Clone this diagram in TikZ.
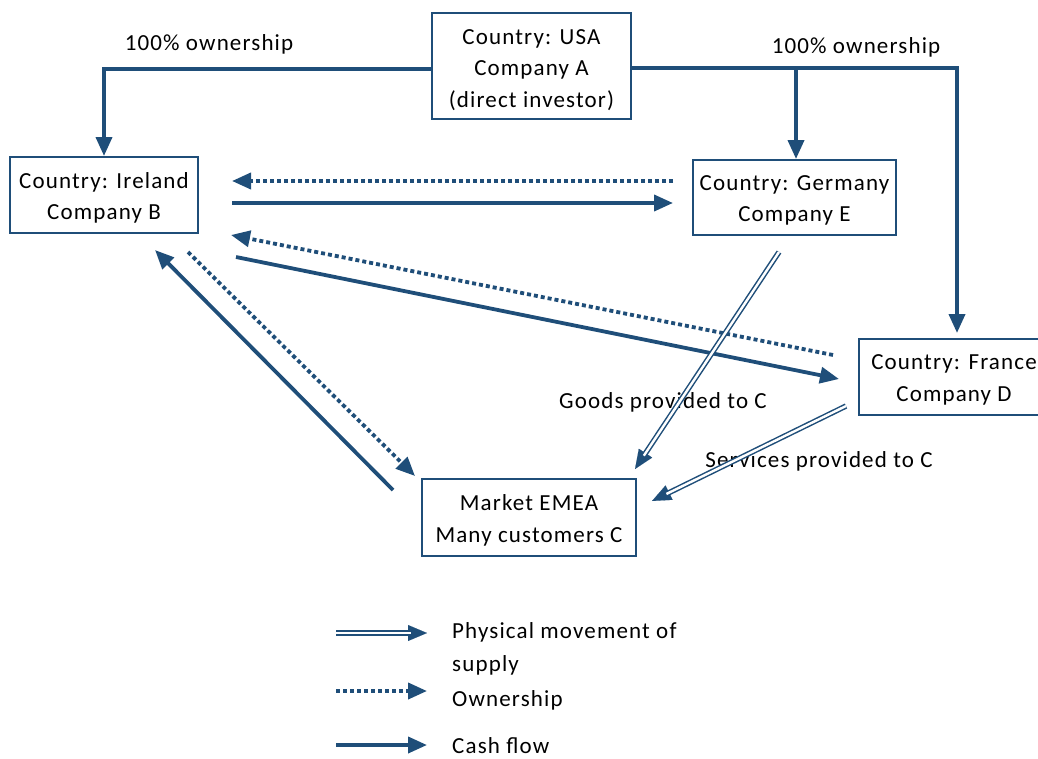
\documentclass[tikz,border=0pt]{standalone}
\usepackage{fontspec}
\setmainfont{Carlito}[LetterSpace=5]
\usetikzlibrary{arrows.meta,calc}
\definecolor{navy}{HTML}{1F4E79}
\tikzset{
  box/.style={draw=navy, line width=1.8pt, inner sep=0pt},
  boxtext/.style={align=center, inner sep=0pt, font=\fontsize{23}{31.5}\selectfont},
  lbl/.style={font=\fontsize{23}{31.5}\selectfont, inner sep=0pt},
  tip/.style={-{Triangle[length=19pt,width=16pt]}},
  own/.style={draw=navy, line width=3.8pt, tip},
  cash/.style={draw=navy, line width=3.8pt, tip},
  dotd/.style={draw=navy, line width=3.8pt, dash pattern=on 4pt off 3pt, tip},
  tiponly/.style={draw=navy, fill=navy, line width=0.1pt, tip},
  dbl/.style={draw=navy, line width=1.5pt, double=white, double distance=2.4pt, shorten >=16pt},
}
\begin{document}
\begin{tikzpicture}[x=1pt,y=-1pt]
\useasboundingbox (0,0) rectangle (1038,758);
% boxes
\node[box, minimum width=199pt, minimum height=106pt] (A) at (531.5,66) {};
\node[box, minimum width=188pt, minimum height=76pt] (B) at (104,195) {};
\node[box, minimum width=203pt, minimum height=75pt] (E) at (794.5,197.5) {};
\node[box, minimum width=196pt, minimum height=76pt] (D) at (957,377) {};
\node[box, minimum width=214pt, minimum height=77pt] (M) at (529,517.5) {};
% box texts
\node[boxtext] (At) at ($(A.center)+(0,4)$) {Country: USA\\Company A\\(direct investor)};
\node[boxtext] (Bt) at ($(B.center)+(0,3)$) {Country: Ireland\\Company B};
\node[boxtext] (Et) at ($(E.center)+(0,3)$) {Country: Germany\\Company E};
\node[boxtext] (Dt) at ($(D.center)+(-3,3)$) {Country: France\\Company D};
\node[boxtext] (Mt) at ($(M.center)+(0,3)$) {Market EMEA\\Many customers C};
% labels
\node[lbl] (l1) at (209,44) {100\% ownership};
\node[lbl] (l2) at (856,47) {100\% ownership};
\node[lbl] (l3) at (663,402) {Goods provided to C};
\node[lbl] (l4) at (819,461) {Services provided to C};
% ownership from A
\coordinate (aw) at (432,69);
\coordinate (ae) at (631,68);
\coordinate (bt) at (104,156);
\coordinate (et) at (796,159);
\coordinate (dt) at (957,333);
\draw[own] (aw) -| (bt);
\draw[own] (ae) -| (dt);
\draw[own] (et |- ae) -- (et);
% B <-> E
\coordinate (e1) at (673,181);
\coordinate (b1) at (232,181);
\coordinate (b2) at (232,203);
\coordinate (e2) at (673,203);
\draw[dotd] (e1) -- (b1);
\draw[cash] (b2) -- (e2);
% B <-> D
\coordinate (d1) at (833,355);
\coordinate (b3) at (231,235);
\coordinate (b4) at (236,257);
\coordinate (d2) at (839,379);
\draw[dotd] (d1) -- (b3);
\draw[cash] (b4) -- (d2);
% B <-> M
\coordinate (m1) at (393,490);
\coordinate (b5) at (155,250);
\coordinate (b6) at (188,252);
\coordinate (m2) at (415,476);
\draw[cash] (m1) -- (b5);
\draw[dotd] (b6) -- (m2);
% physical supply
\coordinate (e3) at (779,252);
\coordinate (m3) at (635,469);
\coordinate (d3) at (846,406);
\coordinate (m4) at (652,501);
\draw[tiponly] (e3) -- (m3);
\draw[dbl] (e3) -- (m3);
\draw[tiponly] (d3) -- (m4);
\draw[dbl] (d3) -- (m4);
% legend
\coordinate (g1s) at (336,633);
\coordinate (g1e) at (427,633);
\coordinate (g2s) at (336,691);
\coordinate (g2e) at (427,691);
\coordinate (g3s) at (336,745);
\coordinate (g3e) at (427,745);
\draw[tiponly] (g1s) -- (g1e);
\draw[dbl] (g1s) -- (g1e);
\draw[dotd] (g2s) -- (g2e);
\draw[cash] (g3s) -- (g3e);
\node[lbl, anchor=west, align=left, font=\fontsize{23}{33}\selectfont] (t1) at (452,649) {Physical movement of\\supply};
\node[lbl, anchor=west] (t2) at (452,700) {Ownership};
\node[lbl, anchor=west] (t3) at (452,746) {Cash flow};
\end{tikzpicture}
\end{document}
